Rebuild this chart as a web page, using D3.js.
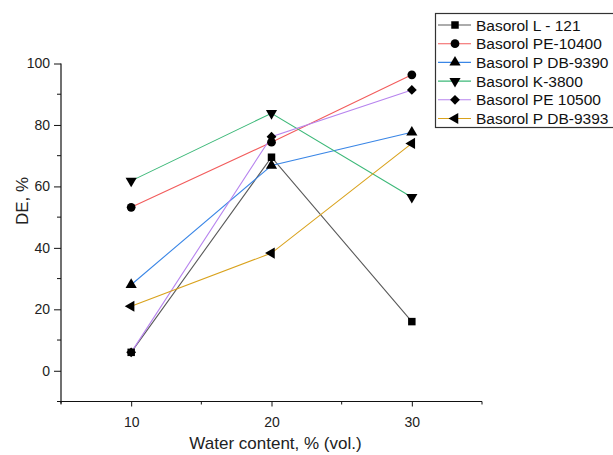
<!DOCTYPE html>
<html>
  <head>
    <style>
      body { margin: 0; background: #fff; font-family: "Liberation Sans", Arial, sans-serif; }
      svg text { fill: #222; }
    </style>
  </head>
<body>
  <div id="chart"></div>
  <script src="https://d3js.org/d3.v7.min.js"></script>
  <script>
    // values
    var water = [10, 20, 30];
    var names = ["Basorol L - 121", "Basorol PE-10400", "Basorol P DB-9390",
                 "Basorol K-3800", "Basorol PE 10500", "Basorol P DB-9393"];
    var l121   = [6, 69.5, 16];
    var pe10400 = [53.2, 74.4, 96.3];
    var pdb9390 = [28, 66.8, 77.6];
    var k3800  = [61.8, 83.8, 56.5];
    var pe10500 = [6, 76.2, 91.4];
    var pdb9393 = [21, 38.3, 74];
    var yTicks = [0, 20, 40, 60, 80, 100];
    var xTicks = [10, 20, 30];

    var series = [l121, pe10400, pdb9390, k3800, pe10500, pdb9393];
    var colors = ["#5a5a5a", "#f25c5c", "#3a86e6", "#3cb878", "#b784ee", "#d9a21c"];
    var shapes = [
      {type: d3.symbolSquare, size: 56, rot: 0},
      {type: d3.symbolCircle, size: 60, rot: 0},
      {type: d3.symbolTriangle, size: 54, rot: 0},
      {type: d3.symbolTriangle, size: 54, rot: 180},
      {type: d3.symbolSquare, size: 48, rot: 45},
      {type: d3.symbolTriangle, size: 54, rot: -90}
    ];

    var width = 613, height = 455;
    var svg = d3.select("#chart").append("svg")
      .attr("width", width).attr("height", height);

    var x = d3.scaleLinear().domain([5, 35]).range([61, 482]);
    var y = d3.scaleLinear().domain([-10, 100]).range([401.5, 63.5]);

    // y axis
    var yAxis = svg.append("g")
      .attr("transform", "translate(" + x(5) + ",0)")
      .call(d3.axisLeft(y).tickValues(yTicks).tickSize(7).tickPadding(4).tickSizeOuter(0))
      .call(function(g) {
        g.select(".domain").remove();
        g.selectAll("text").style("font-size", "14px");
        g.selectAll("line").attr("stroke", "#111");
      });
    yAxis.selectAll(".minor").data([-10, 10, 30, 50, 70, 90]).enter()
      .append("line").attr("class", "minor")
      .attr("x1", -4).attr("x2", 0)
      .attr("y1", function(d) { return y(d); }).attr("y2", function(d) { return y(d); })
      .attr("stroke", "#111");
    yAxis.append("line")
      .attr("x1", 0).attr("x2", 0)
      .attr("y1", y(100)).attr("y2", y(-10) + 2)
      .attr("stroke", "#111").attr("stroke-width", 1.2);

    // x axis
    var xAxis = svg.append("g")
      .attr("transform", "translate(0," + y(-10) + ")")
      .call(d3.axisBottom(x).tickValues(xTicks).tickSize(5).tickPadding(11).tickSizeOuter(0))
      .call(function(g) {
        g.select(".domain").remove();
        g.selectAll("text").style("font-size", "14px");
        g.selectAll("line").attr("stroke", "#111");
      });
    xAxis.selectAll(".minor").data([5, 15, 25, 35]).enter()
      .append("line").attr("class", "minor")
      .attr("y1", 0).attr("y2", 3)
      .attr("x1", function(d) { return x(d); }).attr("x2", function(d) { return x(d); })
      .attr("stroke", "#111");
    xAxis.append("line")
      .attr("x1", x(5) - 2).attr("x2", x(35))
      .attr("y1", 0).attr("y2", 0)
      .attr("stroke", "#111").attr("stroke-width", 1.2);

    // axis titles
    svg.append("text")
      .attr("x", (x(5) + x(35)) / 2 + 4).attr("y", 449)
      .attr("text-anchor", "middle")
      .style("font-size", "17px")
      .text("Water content, % (vol.)");
    svg.append("text")
      .attr("transform", "translate(28," + 201 + ") rotate(-90)")
      .attr("text-anchor", "middle")
      .style("font-size", "17px")
      .text("DE, %");

    var line = d3.line()
      .x(function(d, i) { return x(water[i]); })
      .y(function(d) { return y(d); });

    function sym(i) {
      return d3.symbol().type(shapes[i].type).size(shapes[i].size)();
    }

    series.forEach(function(s, i) {
      svg.append("path")
        .datum(s)
        .attr("d", line)
        .attr("fill", "none")
        .attr("stroke", colors[i])
        .attr("stroke-width", 1.1);
    });
    series.forEach(function(s, i) {
      svg.append("g").selectAll("path")
        .data(s).enter()
        .append("path")
        .attr("d", sym(i))
        .attr("transform", function(d, j) {
          return "translate(" + x(water[j]) + "," + y(d) + ") rotate(" + shapes[i].rot + ")";
        })
        .attr("fill", "#000");
    });

    // legend
    var legend = svg.append("g");
    legend.append("rect")
      .attr("x", 435.5).attr("y", 13.5)
      .attr("width", 200).attr("height", 114)
      .attr("fill", "#fff").attr("stroke", "#333").attr("stroke-width", 1.2);
    names.forEach(function(n, i) {
      var ly = 25 + i * 18.7;
      legend.append("line")
        .attr("x1", 438).attr("x2", 471)
        .attr("y1", ly).attr("y2", ly)
        .attr("stroke", colors[i]).attr("stroke-width", 1.1);
      legend.append("path")
        .attr("d", sym(i))
        .attr("transform", "translate(455," + ly + ") rotate(" + shapes[i].rot + ")")
        .attr("fill", "#000");
      legend.append("text")
        .attr("x", 476).attr("y", ly + 5.5)
        .style("font-size", "15.5px")
        .style("fill", "#111")
        .text(n);
    });
  </script>
</body>
</html>
